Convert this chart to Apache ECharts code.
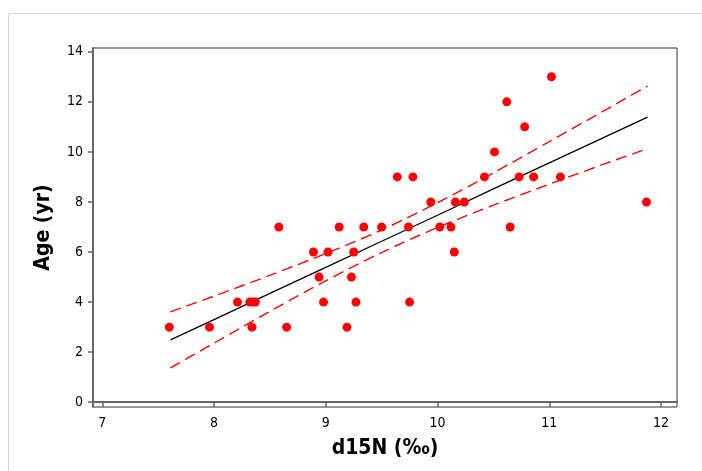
<!DOCTYPE html>
<html>
<head>
<meta charset="utf-8">
<script src="https://cdn.jsdelivr.net/npm/echarts@6/dist/echarts.min.js"></script>
<style>html,body{margin:0;padding:0;background:#fff;}#c{width:702px;height:471px;}</style>
</head>
<body>
<div id="c"></div>
<script>
// Observed data (d15N, Age)
const d15N = [7.60,7.96,8.21,8.32,8.35,8.37,8.34,8.58,8.65,8.89,8.94,8.98,9.02,9.12,9.19,9.23,9.25,9.27,9.34,9.50,
              9.64,9.78,9.74,9.75,9.94,10.02,10.12,10.15,10.16,10.24,10.42,10.51,10.62,10.65,10.73,10.78,10.86,11.02,11.10,11.87];
const age  = [3,3,4,4,4,4,3,7,3,6,5,4,6,7,3,5,6,4,7,7,
              9,9,7,4,8,7,7,6,8,8,9,10,12,7,9,11,9,13,9,8];
// Fit line and confidence band
const bandX   = [7.61,8.0,8.5,9.0,9.5,10.0,10.5,11.0,11.5,11.88];
const fitY    = [2.49,3.30,4.35,5.39,6.43,7.47,8.52,9.56,10.60,11.39];
const upperY  = [3.61,4.24,5.07,5.94,6.88,7.97,9.16,10.41,11.67,12.63];
const lowerY  = [1.37,2.36,3.63,4.85,5.98,6.98,7.87,8.71,9.53,10.13];
const xTicks = [7,8,9,10,11,12];
const yTicks = [0,2,4,6,8,10,12,14];

const pts = d15N.map((x,i)=>[x,age[i]]);
const zip = ys => bandX.map((x,i)=>[x,ys[i]]);
const tickFont = "'DejaVu Sans Condensed','DejaVu Sans',sans-serif";

const chart = echarts.init(document.getElementById('c'), null, {renderer:'canvas'});
chart.setOption({
  animation:false,
  backgroundColor:'#fff',
  graphic:[{type:'rect', shape:{x:8.5,y:13.5,width:720,height:480}, style:{fill:null, stroke:'#d9d9d9', lineWidth:1}, silent:true, z:-1}],
  grid:{left:93, top:48, right:25, bottom:64, show:true, borderColor:'#333', borderWidth:1, backgroundColor:'#fff'},
  xAxis:{type:'value', min:6.917, max:12.143,
    name:'d15N (‰)', nameLocation:'middle', nameGap:31,
    nameTextStyle:{fontFamily:tickFont, fontWeight:'bold', fontSize:21, color:'#000'},
    axisLine:{lineStyle:{color:'#666', width:2}},
    axisTick:{show:true, length:5, inside:false, customValues:xTicks, lineStyle:{color:'#666', width:1.5}},
    axisLabel:{customValues:xTicks, margin:9, fontFamily:tickFont, fontSize:14, color:'#000'},
    splitLine:{show:false}},
  yAxis:{type:'value', min:-0.19, max:14.15,
    name:'Age (yr)', nameLocation:'middle', nameGap:39,
    nameTextStyle:{fontFamily:tickFont, fontWeight:'bold', fontSize:21, color:'#000'},
    axisLine:{show:true, lineStyle:{color:'#666', width:2}},
    axisTick:{show:true, length:5, inside:false, customValues:yTicks, lineStyle:{color:'#666', width:1.5}},
    axisLabel:{customValues:yTicks, margin:10, fontFamily:tickFont, fontSize:14, color:'#000'},
    splitLine:{show:false}},
  series:[
    {type:'line', data:zip(fitY), symbol:'none', lineStyle:{color:'#000', width:1.3}, z:3},
    {type:'line', data:zip(upperY), symbol:'none', smooth:0.3, lineStyle:{color:'#ff0000', width:1.4, type:[11,6]}, z:3},
    {type:'line', data:zip(lowerY), symbol:'none', smooth:0.3, lineStyle:{color:'#ff0000', width:1.4, type:[11,6]}, z:3},
    {type:'scatter', data:pts, symbol:'circle', symbolSize:9, itemStyle:{color:'#ff0000', opacity:1}, z:4}
  ]
});
</script>
</body>
</html>
